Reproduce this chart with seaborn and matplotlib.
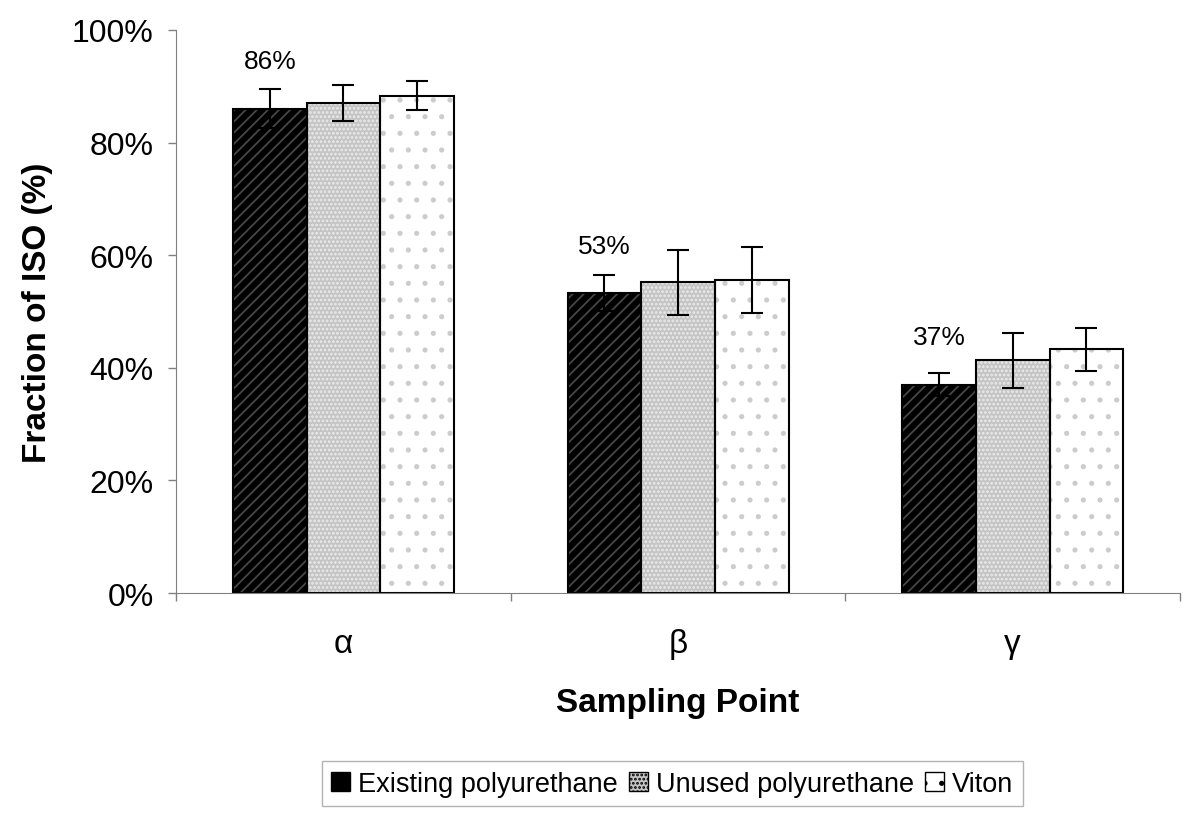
import seaborn as sns
import numpy as np
import pandas as pd
import matplotlib.pyplot as plt
from matplotlib.patches import Patch

sns.set_style('white')
plt.rcParams['font.family'] = ['Liberation Sans', 'DejaVu Sans']
plt.rcParams['text.color'] = 'black'
plt.rcParams['xtick.color'] = 'black'
plt.rcParams['ytick.color'] = 'black'
plt.rcParams['axes.labelcolor'] = 'black'
plt.rcParams['hatch.linewidth'] = 1.3

# data
points = ['α', 'β', 'γ']
materials = ['Existing polyurethane', 'Unused polyurethane', 'Viton']
existing = [86.0, 53.2, 37.0]
unused = [87.0, 55.2, 41.3]
viton = [88.3, 55.6, 43.3]
existing_err = [3.5, 3.2, 2.0]
unused_err = [3.2, 5.8, 4.9]
viton_err = [2.6, 5.9, 3.8]
labels = ['86%', '53%', '37%']

df = pd.DataFrame({
    'point': points * 3,
    'material': np.repeat(materials, 3),
    'value': existing + unused + viton,
})
errs = [existing_err, unused_err, viton_err]

fig = plt.figure(figsize=(12, 8.28), dpi=100)
ax = fig.add_axes([0.1467, 0.2826, 0.8367, 0.68])

faces = ['#000000', '#c4c4c4', '#ffffff']
hatch_cols = ['#474747', '#ececec', '#cccccc']
hatches = ['///', '....', '.']

sns.barplot(data=df, x='point', y='value', hue='material', hue_order=materials,
            palette=faces, width=0.66, errorbar=None, ax=ax, legend=False,
            saturation=1)
for cont, hc, h in zip(ax.containers, hatch_cols, hatches):
    for p in cont:
        p.set_hatch(h)
        p.set_edgecolor(hc)
        p.set_linewidth(0)
# black outlines on top
sns.barplot(data=df, x='point', y='value', hue='material', hue_order=materials,
            fill=False, color='black', width=0.66, errorbar=None, ax=ax,
            legend=False, linewidth=1.5)
for cont in ax.containers[3:]:
    for p in cont:
        p.set_edgecolor('black')
        p.set_linewidth(1.5)

for cont, e in zip(ax.containers[:3], errs):
    xs = [p.get_x() + p.get_width() / 2 for p in cont]
    ys = [p.get_height() for p in cont]
    ax.errorbar(xs, ys, yerr=e, fmt='none', ecolor='black', elinewidth=1.5,
                capsize=8, capthick=1.5)

for p, lab, v in zip(ax.containers[0], labels, existing):
    ax.text(p.get_x() + p.get_width() / 2, v + 8.5, lab, ha='center',
            va='center', fontsize=19)

ax.set_ylim(0, 100)
ax.set_xlim(-0.5, 2.5)
ax.set_yticks(np.arange(0, 101, 20))
ax.set_yticklabels([f'{t}%' for t in range(0, 101, 20)], fontsize=23)
ax.set_xticks([-0.5, 0.5, 1.5, 2.5])
ax.set_xticklabels([])
ax.tick_params(axis='y', length=6, color='#808080', width=1, direction='out',
               left=True, pad=10)
ax.tick_params(axis='x', length=6, color='#808080', width=1, direction='out', bottom=True)
for i, pt in enumerate(points):
    ax.text(i, -9, pt, ha='center', va='center', fontsize=24,
            transform=ax.transData)
ax.set_xlabel('Sampling Point', fontsize=24, fontweight='bold', labelpad=58)
ax.set_ylabel('Fraction of ISO (%)', fontsize=24, fontweight='bold', labelpad=14)
sns.despine(ax=ax)
ax.spines['left'].set_color('#808080')
ax.spines['bottom'].set_color('#808080')

handles = [Patch(facecolor=f, edgecolor=hc, hatch=h) for f, hc, h in zip(faces, hatch_cols, hatches)]
leg = fig.legend(handles, materials, loc='center', bbox_to_anchor=(0.56, 0.052),
                 ncol=3, fontsize=19.5, frameon=True, fancybox=False,
                 handlelength=0.7, handleheight=0.7, handletextpad=0.3,
                 columnspacing=0.4, borderpad=0.35)
leg.get_frame().set_edgecolor('#a0a0a0')
for hp in leg.legend_handles:
    hp.set_edgecolor('black')

plt.savefig('out.png', dpi=100)
